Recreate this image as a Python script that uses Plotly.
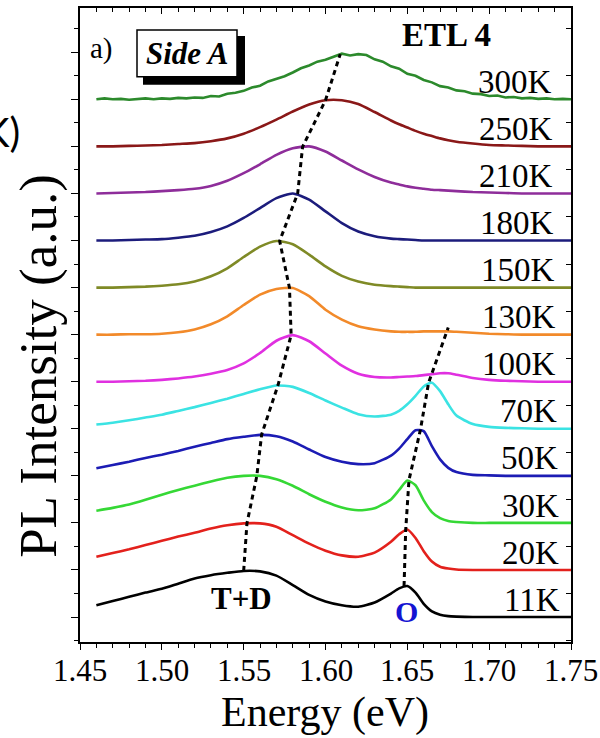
import plotly.graph_objects as go

# Photon energy grid (eV) shared by the low-noise spectra
energy = [1.46, 1.47, 1.48, 1.49, 1.50, 1.51, 1.52, 1.53, 1.54, 1.55,
          1.56, 1.57, 1.58, 1.59, 1.60, 1.61, 1.62, 1.63, 1.64, 1.645,
          1.65, 1.655, 1.66, 1.665, 1.67, 1.675, 1.68,
          1.69, 1.70, 1.71, 1.72, 1.73, 1.74, 1.75]

# Normalised PL intensity for each temperature (stacked bottom -> top)
pl_11K = [0.25, 0.34, 0.43, 0.52, 0.60, 0.71, 0.82, 0.89, 0.94, 0.98,
          0.97, 0.88, 0.68, 0.47, 0.33, 0.25, 0.22, 0.31, 0.50, 0.61,
          0.66, 0.52, 0.28, 0.12, 0.05, 0.02, 0.01,
          0, 0, 0, 0, 0, 0, 0]
pl_20K = [0.28, 0.36, 0.44, 0.53, 0.62, 0.71, 0.79, 0.88, 0.95, 0.99,
          0.99, 0.92, 0.74, 0.56, 0.41, 0.31, 0.28, 0.37, 0.60, 0.76,
          0.86, 0.68, 0.40, 0.18, 0.07, 0.03, 0.01,
          0, 0, 0, 0, 0, 0, 0]
pl_30K = [0.26, 0.32, 0.39, 0.49, 0.60, 0.70, 0.79, 0.88, 0.96, 1.00,
          1.00, 0.93, 0.79, 0.61, 0.45, 0.33, 0.27, 0.31, 0.50, 0.70,
          0.90, 0.80, 0.48, 0.23, 0.10, 0.04, 0.02,
          0, 0, 0, 0, 0, 0, 0]
pl_50K = [0.16, 0.23, 0.30, 0.38, 0.45, 0.53, 0.62, 0.70, 0.78, 0.83,
          0.87, 0.84, 0.73, 0.56, 0.40, 0.30, 0.25, 0.27, 0.43, 0.58,
          0.78, 0.97, 0.95, 0.63, 0.35, 0.17, 0.08,
          0.02, 0.01, 0, 0, 0, 0, 0]
pl_70K = [0.09, 0.13, 0.18, 0.24, 0.30, 0.38, 0.46, 0.55, 0.64, 0.74,
          0.84, 0.92, 0.89, 0.76, 0.60, 0.45, 0.31, 0.26, 0.30, 0.38,
          0.52, 0.70, 0.90, 0.98, 0.80, 0.52, 0.28,
          0.10, 0.04, 0.02, 0.01, 0, 0, 0]
pl_100K = [0, 0, 0.01, 0.02, 0.04, 0.07, 0.11, 0.17, 0.25, 0.39,
           0.61, 0.87, 0.99, 0.86, 0.60, 0.34, 0.17, 0.10, 0.09, 0.10,
           0.11, 0.12, 0.14, 0.16, 0.18, 0.18, 0.15,
           0.08, 0.04, 0.02, 0.01, 0, 0, 0]
pl_130K = [0, 0, 0.01, 0.01, 0.02, 0.05, 0.11, 0.22, 0.39, 0.63,
           0.85, 0.97, 0.99, 0.82, 0.53, 0.32, 0.18, 0.11, 0.07, 0.06,
           0.06, 0.06, 0.07, 0.07, 0.07, 0.07, 0.06,
           0.04, 0.02, 0.01, 0, 0, 0, 0]
pl_150K = [0, 0, 0.01, 0.02, 0.04, 0.07, 0.13, 0.24, 0.41, 0.65,
           0.87, 0.99, 0.92, 0.70, 0.45, 0.25, 0.13, 0.06, 0.03, 0.02,
           0.01, 0, 0, 0, 0, 0, 0,
           0, 0, 0, 0, 0, 0, 0]
pl_180K = [0, 0, 0.01, 0.02, 0.03, 0.06, 0.10, 0.18, 0.30, 0.48,
           0.69, 0.90, 1.00, 0.87, 0.62, 0.37, 0.19, 0.09, 0.04, 0.03,
           0.02, 0.01, 0, 0, 0, 0, 0,
           0, 0, 0, 0, 0, 0, 0]
pl_210K = [0, 0.01, 0.02, 0.03, 0.05, 0.07, 0.10, 0.16, 0.27, 0.43,
           0.62, 0.82, 0.96, 1.00, 0.89, 0.70, 0.51, 0.35, 0.23, 0.19,
           0.15, 0.12, 0.10, 0.08, 0.07, 0.06, 0.05,
           0.03, 0.02, 0.01, 0, 0, 0, 0]
pl_250K = [0, 0, 0.01, 0.02, 0.03, 0.05, 0.07, 0.11, 0.17, 0.27,
           0.41, 0.57, 0.74, 0.89, 0.98, 0.98, 0.90, 0.73, 0.55, 0.47,
           0.40, 0.33, 0.27, 0.22, 0.17, 0.13, 0.10,
           0.06, 0.03, 0.02, 0.01, 0, 0, 0]

# Room-temperature spectrum is noisier, sampled on a finer grid
energy_300K = [1.460, 1.465, 1.470, 1.475, 1.480, 1.485, 1.490, 1.495, 1.500, 1.505,
               1.510, 1.515, 1.520, 1.525, 1.530, 1.535, 1.540, 1.545, 1.550, 1.555,
               1.560, 1.565, 1.570, 1.575, 1.580, 1.585, 1.590, 1.595, 1.600, 1.605,
               1.610, 1.615, 1.620, 1.625, 1.630, 1.635, 1.640, 1.645, 1.650, 1.655,
               1.660, 1.665, 1.670, 1.675, 1.680, 1.685, 1.690, 1.695, 1.700, 1.705,
               1.710, 1.715, 1.720, 1.725, 1.730, 1.735, 1.740, 1.745, 1.750]
pl_300K = [0.00, 0.02, 0.00, 0.01, -0.01, 0.01, 0.02, 0.00, 0.02, 0.01,
           0.03, 0.02, 0.04, 0.03, 0.07, 0.06, 0.12, 0.14, 0.18, 0.25,
           0.29, 0.38, 0.43, 0.49, 0.57, 0.66, 0.72, 0.80, 0.84, 0.91,
           0.97, 0.93, 0.96, 0.94, 0.85, 0.80, 0.70, 0.65, 0.54, 0.50,
           0.41, 0.36, 0.28, 0.25, 0.19, 0.17, 0.12, 0.11, 0.07, 0.08,
           0.04, 0.05, 0.02, 0.03, 0.01, 0.02, 0.00, 0.01, 0.00]

temperatures = ["11K", "20K", "30K", "50K", "70K", "100K",
                "130K", "150K", "180K", "210K", "250K", "300K"]
spectra = [pl_11K, pl_20K, pl_30K, pl_50K, pl_70K, pl_100K,
           pl_130K, pl_150K, pl_180K, pl_210K, pl_250K, pl_300K]
line_colors = ["#000000", "#e3211c", "#35d835", "#1c1cb4", "#3be3e3", "#e030e0",
               "#f28a2a", "#7f8a26", "#1c1c7c", "#8e2d9a", "#8a1818", "#2c8a2c"]

# Peak positions followed by the dashed guide lines (energy, stacked level)
td_peak_energy = [1.550, 1.552, 1.558, 1.561, 1.571, 1.579,
                  1.578, 1.572, 1.583, 1.586, 1.600, 1.609]
td_peak_level = [0.98, 1.99, 2.99, 3.88, 4.93, 5.99,
                 6.99, 7.99, 9.00, 9.99, 10.98, 11.96]
o_peak_energy = [1.648, 1.649, 1.651, 1.658, 1.663, 1.675]
o_peak_level = [0.66, 1.85, 2.91, 3.98, 4.98, 6.15]

x_ticks = [1.45, 1.50, 1.55, 1.60, 1.65, 1.70, 1.75]
x_tick_text = ["1.45", "1.50", "1.55", "1.60", "1.65", "1.70", "1.75"]

W, H = 600, 738
ML, MR, MT, MB = 80, 29, 6, 96
PW, PH = W - ML - MR, H - MT - MB


def px(xp):
    return (xp - ML) / PW


def py(yp):
    return (H - MB - yp) / PH


SERIF = "Liberation Serif"

fig = go.Figure()

for i, (name, vals, col) in enumerate(zip(temperatures, spectra, line_colors)):
    xs = energy_300K if name == "300K" else energy
    fig.add_trace(go.Scatter(
        x=xs, y=[v + i for v in vals], mode="lines", name=name,
        line=dict(color=col, width=2.6,
                  shape="linear" if name == "300K" else "spline", smoothing=0.6),
        showlegend=False, hoverinfo="skip"))

for xs, ys in [(td_peak_energy, td_peak_level), (o_peak_energy, o_peak_level)]:
    fig.add_trace(go.Scatter(
        x=xs, y=ys, mode="lines", showlegend=False, hoverinfo="skip",
        line=dict(color="black", width=3, dash="5px,4px")))

annotations = []
# temperature labels, right-aligned next to each baseline
n = len(temperatures)
for i, name in enumerate(temperatures):
    annotations.append(dict(
        text=name, xref="paper", yref="y", x=px(562 - 8 * i / (n - 1)), y=i + 0.37,
        xanchor="right", yanchor="middle", showarrow=False,
        font=dict(family=SERIF, size=33, color="black")))

# energy tick labels
for val, lab in zip(x_ticks, x_tick_text):
    annotations.append(dict(
        text=lab, xref="x", yref="paper", x=val, y=py(671),
        xanchor="center", yanchor="middle", showarrow=False,
        font=dict(family=SERIF, size=31, color="black")))

n_fixed = len(annotations)
annotations += [
    dict(text="a)", x=px(101), y=py(47), font=dict(family=SERIF, size=29)),
    dict(text="<b><i>Side A</i></b>", x=px(187), y=py(52),
         font=dict(family=SERIF, size=31)),
    dict(text="<b>ETL 4</b>", x=px(446), y=py(33), font=dict(family=SERIF, size=33)),
    dict(text="<b>T+D</b>", x=px(241), y=py(598), font=dict(family=SERIF, size=31)),
    dict(text="<b>O</b>", x=px(406), y=py(611),
         font=dict(family=SERIF, size=30, color="#1414d2")),
    dict(text="PL Intensity (a.u.)", x=px(39), y=py(365), textangle=-90,
         font=dict(family=SERIF, size=53)),
    dict(text="Energy (eV)", x=px(325), y=py(713), font=dict(family=SERIF, size=42)),
    dict(text="K)", x=px(22), y=py(130), xanchor="right",
         font=dict(family="Lato", size=40)),
]
for a in annotations[n_fixed:]:
    a.setdefault("xref", "paper")
    a.setdefault("yref", "paper")
    a.setdefault("showarrow", False)
    a.setdefault("xanchor", "center")
    a.setdefault("yanchor", "middle")
    a["font"].setdefault("color", "black")

shapes = [
    # drop shadow behind the "Side A" box
    dict(type="rect", xref="paper", yref="paper", x0=px(143), x1=px(245),
         y0=py(83), y1=py(34), fillcolor="black", line=dict(width=0)),
    dict(type="rect", xref="paper", yref="paper", x0=px(137), x1=px(237),
         y0=py(75), y1=py(28), fillcolor="white", line=dict(color="black", width=1.5)),
]

y_range = [-0.53, 12.94]
x_range = [1.45, 1.75]

fig.update_layout(
    width=W, height=H,
    margin=dict(l=ML, r=MR, t=MT, b=MB),
    paper_bgcolor="white", plot_bgcolor="white",
    annotations=annotations, shapes=shapes,
    xaxis=dict(range=x_range, tickvals=x_ticks, showticklabels=False,
               ticks="outside", ticklen=6, tickwidth=1.3, tickcolor="black",
               minor=dict(dtick=0.01, tick0=1.45, ticks="outside", ticklen=4,
                          tickwidth=1.2, tickcolor="black", showgrid=False),
               showline=True, linecolor="black", linewidth=1.5, mirror=True,
               showgrid=False, zeroline=False),
    xaxis2=dict(range=x_range, overlaying="x", side="top", anchor="y",
                tickvals=x_ticks, ticks="inside", ticklen=6, tickwidth=1.3,
                tickcolor="black", showticklabels=False,
                minor=dict(dtick=0.01, tick0=1.45, ticks="inside", ticklen=4,
                           tickwidth=1.2, tickcolor="black", showgrid=False),
                showline=False, showgrid=False, zeroline=False),
    yaxis=dict(range=y_range, tickvals=list(range(0, 13)), showticklabels=False,
               ticks="outside", ticklen=7, tickwidth=1.3, tickcolor="black",
               minor=dict(dtick=0.5, tick0=0, ticks="outside", ticklen=4,
                          tickwidth=1.2, tickcolor="black", showgrid=False),
               showline=True, linecolor="black", linewidth=1.5, mirror=True,
               showgrid=False, zeroline=False),
    yaxis2=dict(range=y_range, overlaying="y", side="right", anchor="x",
                tickvals=[k + 0.5 for k in range(-1, 13)], showticklabels=False,
                ticks="inside", ticklen=5, tickwidth=1.3, tickcolor="black",
                showline=False, showgrid=False, zeroline=False),
)

# invisible helper so the secondary (mirror) axes are laid out
fig.add_trace(go.Scatter(x=[1.45], y=[0], xaxis="x2", yaxis="y2", mode="markers",
                         marker=dict(opacity=0), showlegend=False, hoverinfo="skip"))

fig.write_html("out.html")
